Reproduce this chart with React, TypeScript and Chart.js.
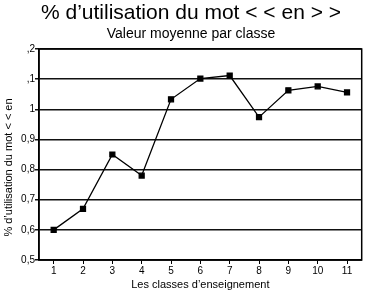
import React, { useEffect, useRef } from "react";
import { Chart, registerables } from "chart.js";

Chart.register(...registerables);

const categories = ["1", "2", "3", "4", "5", "6", "7", "8", "9", "10", "11"];
const values = [0.6, 0.67, 0.85, 0.78, 1.033, 1.102, 1.112, 0.974, 1.063, 1.076, 1.056];
const yTickLabels = ["0,5", "0,6", "0,7", "0,8", "0,9", "1", ",1", ",2"];
const titleText = "% d\u2019utilisation du mot < < en > >";
const subtitleText = "Valeur moyenne par classe";
const xTitle = "Les classes d\u2019enseignement";
const yTitle = "% d\u2019utilisation du mot < < en";

const FONT = "'Liberation Sans', Arial, Helvetica, sans-serif";
const PAD_LEFT = 16;

const framePlugin = {
  id: "frame",
  beforeDatasetsDraw(chart: any) {
    const { ctx, chartArea } = chart;
    ctx.save();
    ctx.strokeStyle = "#000";
    ctx.lineWidth = 1.5;
    ctx.strokeRect(chartArea.left, chartArea.top, chartArea.right - chartArea.left, chartArea.bottom - chartArea.top);
    ctx.restore();
  },
};

const yTitlePlugin = {
  id: "yTitleLow",
  afterDraw(chart: any) {
    const { ctx, chartArea } = chart;
    const yScale = chart.scales.y;
    ctx.save();
    ctx.fillStyle = "#000";
    ctx.font = "11px " + FONT;
    ctx.textAlign = "center";
    ctx.textBaseline = "middle";
    ctx.translate(yScale.left - PAD_LEFT + 9, (chartArea.top + chartArea.bottom) / 2 + 13);
    ctx.rotate(-Math.PI / 2);
    ctx.fillText(yTitle, 0, 0);
    ctx.restore();
  },
};

export default function App() {
  const ref = useRef<HTMLCanvasElement | null>(null);
  useEffect(() => {
    if (!ref.current) return;
    Chart.defaults.font.family = FONT;
    const chart = new Chart(ref.current, {
      type: "line",
      data: {
        labels: categories,
        datasets: [
          {
            data: values,
            borderColor: "#000",
            borderWidth: 1.3,
            pointStyle: "rect",
            pointRadius: 3.5,
            pointBackgroundColor: "#000",
            pointBorderColor: "#000",
            tension: 0,
          },
        ],
      },
      options: {
        responsive: false,
        animation: false,
        layout: { padding: { left: PAD_LEFT, right: 1, top: 0, bottom: 0 } },
        plugins: {
          legend: { display: false },
          tooltip: { enabled: false },
          title: {
            display: true,
            text: titleText,
            color: "#000",
            font: { size: 21, weight: "normal", family: FONT },
            padding: { top: 1, bottom: 0 },
          },
          subtitle: {
            display: true,
            text: subtitleText,
            color: "#000",
            font: { size: 14, weight: "normal", family: FONT },
            padding: { top: 0, bottom: 6 },
          },
        },
        scales: {
          x: {
            type: "category",
            offset: true,
            grid: {
              display: true,
              drawOnChartArea: false,
              drawTicks: true,
              tickLength: 4,
              offset: false,
              color: "#000",
            },
            border: { color: "#000", width: 1.5 },
            ticks: { color: "#000", font: { size: 10 }, padding: 1, maxRotation: 0, autoSkip: false },
            title: {
              display: true,
              text: xTitle,
              color: "#000",
              font: { size: 11 },
              padding: { top: 0, bottom: 0 },
            },
            afterFit(scale: any) {
              scale.height = 32;
            },
          },
          y: {
            min: 0.5,
            max: 1.2,
            grid: { color: "#111", lineWidth: 1.5, tickLength: 4 },
            border: { color: "#000", width: 1.5 },
            ticks: {
              stepSize: 0.1,
              color: "#000",
              font: { size: 10 },
              padding: 0,
              callback: (_v: any, i: number) => yTickLabels[i],
            },
            title: { display: false },
            afterFit(scale: any) {
              scale.width = 39 - PAD_LEFT;
            },
          },
        },
      },
      plugins: [framePlugin, yTitlePlugin],
    } as any);
    return () => chart.destroy();
  }, []);
  return (
    <div style={{ position: "fixed", left: 0, top: 0, width: 367, height: 292, overflow: "hidden", background: "#fff" }}>
      <canvas ref={ref} width={367} height={292} style={{ display: "block" }} />
    </div>
  );
}
